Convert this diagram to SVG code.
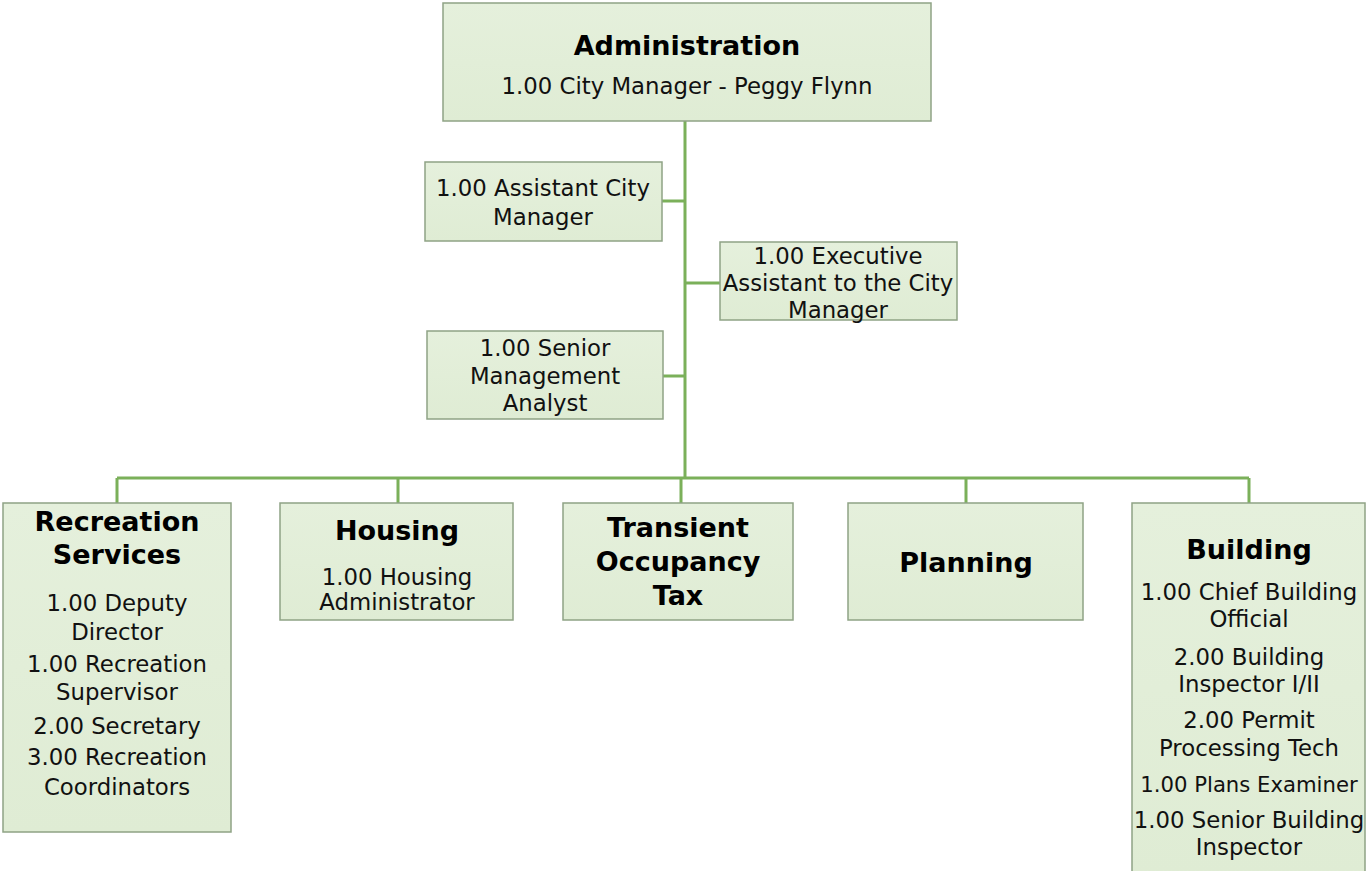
<svg xmlns="http://www.w3.org/2000/svg" width="1366" height="871" viewBox="0 0 1366 871">
<defs>
<linearGradient id="g" x1="0" y1="0" x2="0" y2="1">
<stop offset="0" stop-color="#e5f0dc"/>
<stop offset="1" stop-color="#dfecd4"/>
</linearGradient>
</defs>
<style>
.box{fill:url(#g);stroke:#8fa385;stroke-width:1.5}
.t{font-family:"DejaVu Sans",sans-serif;font-size:27px;font-weight:bold;fill:#000;text-anchor:middle}
.s{font-family:"DejaVu Sans",sans-serif;font-size:22.8px;fill:#111;text-anchor:middle}
.c{fill:none;stroke:#7bb05a;stroke-width:3}
</style>
<rect width="1366" height="871" fill="#fff"/>
<g id="connectors">
<path class="c" d="M685 121V478"/>
<path class="c" d="M662 201H685M685 283H720M663 376H685"/>
<path class="c" d="M117 478H1249M117 478V503M398 478V503M681 478V503M966 478V503M1249 478V503"/>
</g>
<g id="admin">
<rect class="box" x="443" y="3" width="488" height="118"/>
<text class="t" x="687" y="55">Administration</text>
<text class="s" x="687" y="94">1.00 City Manager - Peggy Flynn</text>
</g>
<g id="asst">
<rect class="box" x="425" y="162" width="237" height="79"/>
<text class="s" x="543" y="196">1.00 Assistant City</text>
<text class="s" x="543" y="225">Manager</text>
</g>
<g id="exec">
<rect class="box" x="720" y="242" width="237" height="78"/>
<text class="s" x="838" y="264">1.00 Executive</text>
<text class="s" x="838" y="291">Assistant to the City</text>
<text class="s" x="838" y="318">Manager</text>
</g>
<g id="senior">
<rect class="box" x="427" y="331" width="236" height="88"/>
<text class="s" x="545" y="356">1.00 Senior</text>
<text class="s" x="545" y="384">Management</text>
<text class="s" x="545" y="411">Analyst</text>
</g>
<g id="recreation">
<rect class="box" x="3" y="503" width="228" height="329"/>
<text class="t" x="117" y="531">Recreation</text>
<text class="t" x="117" y="564">Services</text>
<text class="s" x="117" y="611">1.00 Deputy</text>
<text class="s" x="117" y="640">Director</text>
<text class="s" x="117" y="672">1.00 Recreation</text>
<text class="s" x="117" y="700">Supervisor</text>
<text class="s" x="117" y="734">2.00 Secretary</text>
<text class="s" x="117" y="765">3.00 Recreation</text>
<text class="s" x="117" y="795">Coordinators</text>
</g>
<g id="housing">
<rect class="box" x="280" y="503" width="233" height="117"/>
<text class="t" x="397" y="540">Housing</text>
<text class="s" x="397" y="585">1.00 Housing</text>
<text class="s" x="397" y="610">Administrator</text>
</g>
<g id="tot">
<rect class="box" x="563" y="503" width="230" height="117"/>
<text class="t" x="678" y="537">Transient</text>
<text class="t" x="678" y="571">Occupancy</text>
<text class="t" x="678" y="605">Tax</text>
</g>
<g id="planning">
<rect class="box" x="848" y="503" width="235" height="117"/>
<text class="t" x="966" y="572">Planning</text>
</g>
<g id="building">
<rect class="box" x="1132" y="503" width="233" height="370"/>
<text class="t" x="1249" y="559">Building</text>
<text class="s" x="1249" y="600">1.00 Chief Building</text>
<text class="s" x="1249" y="627">Official</text>
<text class="s" x="1249" y="665">2.00 Building</text>
<text class="s" x="1249" y="692">Inspector I/II</text>
<text class="s" x="1249" y="728">2.00 Permit</text>
<text class="s" x="1249" y="756">Processing Tech</text>
<text class="s" x="1249" y="792" style="font-size:21.2px">1.00 Plans Examiner</text>
<text class="s" x="1249" y="828">1.00 Senior Building</text>
<text class="s" x="1249" y="855">Inspector</text>
</g>
</svg>
